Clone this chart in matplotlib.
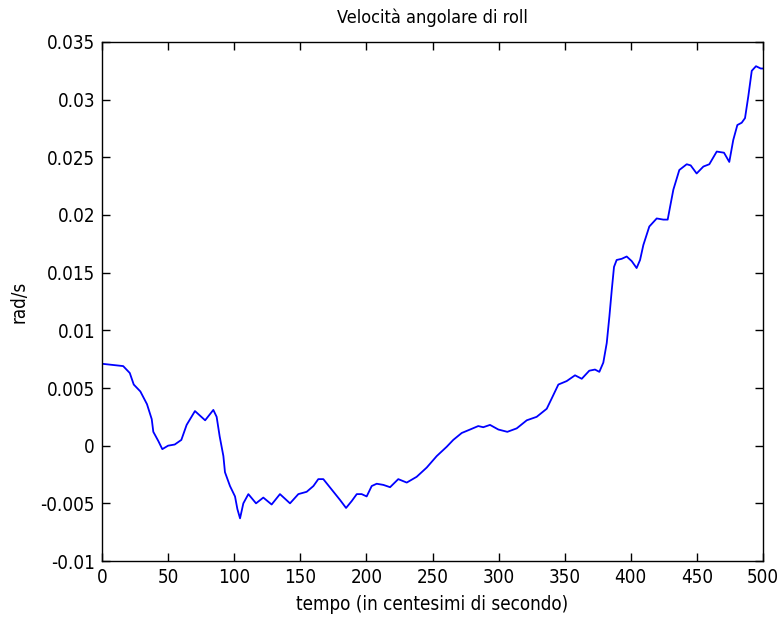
import matplotlib.pyplot as plt

# roll angular velocity samples (time in hundredths of a second, rad/s)
t = [0, 16, 21, 24, 29, 34, 37.6, 38.8, 42.6, 45.6, 50, 55, 60, 64, 70.3, 78,
     84.2, 86.7, 89, 91.8, 93, 96.8, 100.6, 102.4, 104.4, 106.9, 110.7, 116.5,
     122, 128.3, 134.6, 142.2, 148.5, 154.8, 159.9, 163.6, 167.4, 173.7, 180,
     184.6, 188.9, 192.7, 196.4, 200.2, 204, 207.8, 212.8, 217.9, 224.1, 230.5,
     238, 245.6, 253.2, 260.7, 265.7, 272.1, 278.4, 284.6, 288.4, 293.5, 299.8,
     306.6, 313.7, 321.3, 328.8, 336.4, 340.2, 345.2, 351.5, 357.8, 362.9, 368.6,
     372.9, 376.2, 379.2, 381.8, 383.8, 385.6, 387.3, 389.3, 393.1, 396.9, 400.7,
     404.4, 407, 409.5, 414, 419.6, 424.6, 427.9, 429.7, 432.2, 436.7, 442.3,
     445.3, 449.8, 454.9, 459.4, 465, 470.5, 474.5, 477.5, 480.6, 483.9, 486.4,
     488.9, 491.5, 494.7, 498.3, 500]
omega = [0.0071, 0.0069, 0.0063, 0.0053, 0.0047, 0.0036, 0.0023, 0.0012, 0.0004,
         -0.0003, 0.0, 0.0001, 0.0005, 0.0018, 0.0030, 0.0022, 0.0031, 0.0025,
         0.0008, -0.0009, -0.0023, -0.0035, -0.0044, -0.0055, -0.0063, -0.0050,
         -0.0042, -0.0050, -0.0045, -0.0051, -0.0042, -0.0050, -0.0042, -0.0040,
         -0.0035, -0.0029, -0.0029, -0.0038, -0.0047, -0.0054, -0.0048, -0.0042,
         -0.0042, -0.0044, -0.0035, -0.0033, -0.0034, -0.0036, -0.0029, -0.0032,
         -0.0027, -0.0019, -0.0009, -0.0001, 0.0005, 0.0011, 0.0014, 0.0017,
         0.0016, 0.0018, 0.0014, 0.0012, 0.0015, 0.0022, 0.0025, 0.0032, 0.0041,
         0.0053, 0.0056, 0.0061, 0.0058, 0.0065, 0.0066, 0.0064, 0.0072, 0.0089,
         0.0112, 0.0135, 0.0155, 0.0161, 0.0162, 0.0164, 0.0160, 0.0154, 0.0161,
         0.0174, 0.0190, 0.0197, 0.0196, 0.0196, 0.0207, 0.0222, 0.0239, 0.0244,
         0.0243, 0.0236, 0.0242, 0.0244, 0.0255, 0.0254, 0.0246, 0.0265, 0.0278,
         0.0280, 0.0284, 0.0303, 0.0325, 0.0329, 0.0327, 0.0327]

x_ticks = [0, 50, 100, 150, 200, 250, 300, 350, 400, 450, 500]
y_ticks = [-0.01, -0.005, 0, 0.005, 0.01, 0.015, 0.02, 0.025, 0.03, 0.035]
y_labels = ['-0.01', '-0.005', '0', '0.005', '0.01', '0.015', '0.02', '0.025', '0.03', '0.035']

plt.rcParams['font.family'] = ['DejaVu Sans']
plt.rcParams['font.stretch'] = 'condensed'
plt.rcParams['font.size'] = 13.5

fig = plt.figure(figsize=(7.8, 6.21), dpi=100)
ax = fig.add_axes([0.1308, 0.0966, 0.8474, 0.8358])
ax.plot(t, omega, color='#0000ff', linewidth=1.3)
ax.set_xlim(0, 500)
ax.set_ylim(-0.01, 0.035)
ax.set_xticks(x_ticks)
ax.set_yticks(y_ticks)
ax.set_yticklabels(y_labels)
ax.tick_params(direction='in', top=True, right=True, length=6, width=1, pad=5)
for s in ax.spines.values():
    s.set_linewidth(1.0)
ax.set_title('Velocità angolare di roll', fontsize=13, pad=14)
ax.set_xlabel('tempo (in centesimi di secondo)', labelpad=6)
ax.set_ylabel('rad/s', labelpad=9)
fig.savefig('out.png', dpi=100)
